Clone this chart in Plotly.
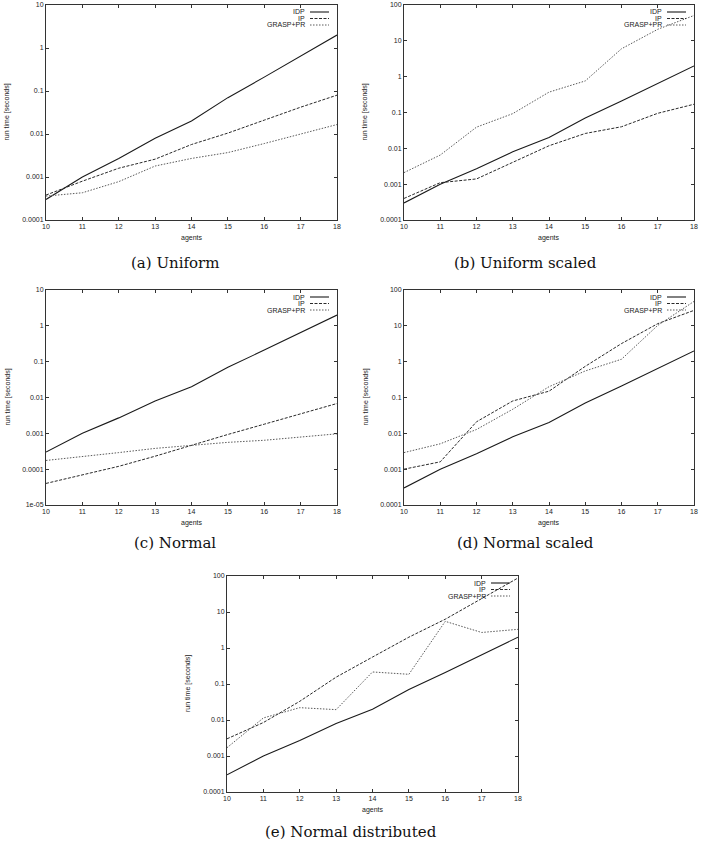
import plotly.graph_objects as go

# ---------------- data ----------------
agents = [10, 11, 12, 13, 14, 15, 16, 17, 18]
series_names = ["IDP", "IP", "GRASP+PR"]

idp = [0.0003, 0.001, 0.0027, 0.008, 0.02, 0.07, 0.21, 0.65, 2.0]

ip_uniform = [0.00038, 0.0008, 0.0016, 0.0026, 0.0057, 0.0105, 0.021, 0.042, 0.08]
grasp_uniform = [0.00036, 0.00043, 0.00078, 0.0018, 0.0027, 0.0037, 0.006, 0.01, 0.0166]

ip_uniform_scaled = [0.0004, 0.0011, 0.0014, 0.004, 0.0118, 0.026, 0.04, 0.095, 0.17]
grasp_uniform_scaled = [0.0021, 0.0065, 0.039, 0.093, 0.37, 0.76, 6.0, 21, 51]

ip_normal = [0.00004, 0.00007, 0.00012, 0.00023, 0.00047, 0.00093, 0.0018, 0.0035, 0.0068]
grasp_normal = [0.000175, 0.00022, 0.00029, 0.00038, 0.00046, 0.00056, 0.00064, 0.00078, 0.00097]

ip_normal_scaled = [0.001, 0.0016, 0.021, 0.08, 0.15, 0.74, 3.2, 11.5, 27]
grasp_normal_scaled = [0.0029, 0.0051, 0.0128, 0.047, 0.2, 0.55, 1.17, 10.3, 48]

ip_normal_dist = [0.003, 0.0085, 0.033, 0.155, 0.56, 2.0, 6.3, 23, 88]
grasp_normal_dist = [0.0017, 0.0114, 0.022, 0.0194, 0.216, 0.186, 5.5, 2.7, 3.3]

captions = ["(a) Uniform", "(b) Uniform scaled", "(c) Normal",
            "(d) Normal scaled", "(e) Normal distributed"]

ytick_vals_5 = [1e-5, 1e-4, 1e-3, 1e-2, 1e-1, 1, 10]
ytick_text_5 = ["1e-05", "0.0001", "0.001", "0.01", "0.1", "1", "10"]
ytick_vals_4 = [1e-4, 1e-3, 1e-2, 1e-1, 1, 10, 100]
ytick_text_4 = ["0.0001", "0.001", "0.01", "0.1", "1", "10", "100"]

# ---------------- layout geometry (pixels) ----------------
W, H = 701, 843
# (left, right, top, bottom) of each plot area, caption center (x, y), y range (log10)
panels = [
    dict(box=(46, 337, 5, 220), cap=(175, 263), yr=(-4, 1),
         ip=ip_uniform, gr=grasp_uniform, tv=ytick_vals_4[:6], tt=ytick_text_4[:6]),
    dict(box=(404, 694, 5, 220), cap=(525, 263), yr=(-4, 2),
         ip=ip_uniform_scaled, gr=grasp_uniform_scaled, tv=ytick_vals_4, tt=ytick_text_4),
    dict(box=(46, 337, 290, 505), cap=(175, 543), yr=(-5, 1),
         ip=ip_normal, gr=grasp_normal, tv=ytick_vals_5, tt=ytick_text_5),
    dict(box=(404, 694, 290, 505), cap=(525, 543), yr=(-4, 2),
         ip=ip_normal_scaled, gr=grasp_normal_scaled, tv=ytick_vals_4, tt=ytick_text_4),
    dict(box=(227, 518, 576, 792), cap=(351, 832), yr=(-4, 2),
         ip=ip_normal_dist, gr=grasp_normal_dist, tv=ytick_vals_4, tt=ytick_text_4),
]

styles = [
    dict(color="#1a1a1a", width=1.1, dash="solid"),
    dict(color="#2a2a2a", width=1.0, dash="3px,1.5px"),
    dict(color="#5a5a5a", width=1.0, dash="1.5px,1.5px"),
]

SANS = "Liberation Sans, Arial, sans-serif"
SERIF = "DejaVu Serif, serif"
FRAME = "#333333"

fig = go.Figure()
layout = dict(width=W, height=H, margin=dict(l=0, r=0, t=0, b=0), autosize=False,
              paper_bgcolor="white", plot_bgcolor="white", showlegend=False)
annotations = []
shapes = []

for i, p in enumerate(panels):
    n = "" if i == 0 else str(i + 1)
    L, R, T, B = p["box"]
    xd = [L / W, R / W]
    yd = [1 - B / H, 1 - T / H]
    pw, ph = R - L, B - T

    for s, ys in enumerate([idp, p["ip"], p["gr"]]):
        fig.add_trace(go.Scatter(x=agents, y=ys, mode="lines", name=series_names[s],
                                 line=styles[s], xaxis="x" + n, yaxis="y" + n,
                                 hoverinfo="skip"))

    layout["xaxis" + n] = dict(domain=xd, anchor="y" + n, range=[10, 18], tickvals=agents,
                               ticks="inside", ticklen=3, tickcolor=FRAME, mirror="allticks",
                               showline=True, linecolor=FRAME, linewidth=1, showgrid=False,
                               zeroline=False, automargin=False,
                               tickfont=dict(family=SANS, size=7, color="#222"))
    layout["yaxis" + n] = dict(domain=yd, anchor="x" + n, type="log", range=list(p["yr"]),
                               tickvals=p["tv"], ticktext=p["tt"],
                               ticks="inside", ticklen=3, tickcolor=FRAME, mirror="allticks",
                               showline=True, linecolor=FRAME, linewidth=1, showgrid=False,
                               zeroline=False, automargin=False,
                               tickfont=dict(family=SANS, size=7, color="#222"))

    # axis titles
    annotations.append(dict(text="agents", xref="paper", yref="paper",
                            x=(L + R) / 2 / W, y=1 - (B + 18) / H, showarrow=False,
                            xanchor="center", yanchor="middle",
                            font=dict(family=SANS, size=7, color="#222")))
    annotations.append(dict(text="run time [seconds]", xref="paper", yref="paper",
                            x=(L - 39) / W, y=1 - (T + B) / 2 / H, showarrow=False,
                            textangle=-90, xanchor="center", yanchor="middle",
                            font=dict(family=SANS, size=7, color="#222")))
    # caption
    annotations.append(dict(text=captions[i], xref="paper", yref="paper",
                            x=p["cap"][0] / W, y=1 - p["cap"][1] / H, showarrow=False,
                            xanchor="center", yanchor="middle",
                            font=dict(family=SERIF, size=15, color="#111")))
    # gnuplot-style key: text right-aligned, sample to its right
    for s in range(3):
        yy = 1 - (7 + 6.5 * s) / ph
        annotations.append(dict(text=series_names[s], xref="x" + n + " domain",
                                yref="y" + n + " domain", x=1 - 30 / pw, y=yy,
                                showarrow=False, xanchor="right", yanchor="middle",
                                font=dict(family=SANS, size=7, color="#222")))
        shapes.append(dict(type="line", xref="x" + n + " domain", yref="y" + n + " domain",
                           x0=1 - 27 / pw, x1=1 - 8 / pw, y0=yy, y1=yy, line=styles[s]))

layout["annotations"] = annotations
layout["shapes"] = shapes
fig.update_layout(**layout)
fig.write_html("out.html")
